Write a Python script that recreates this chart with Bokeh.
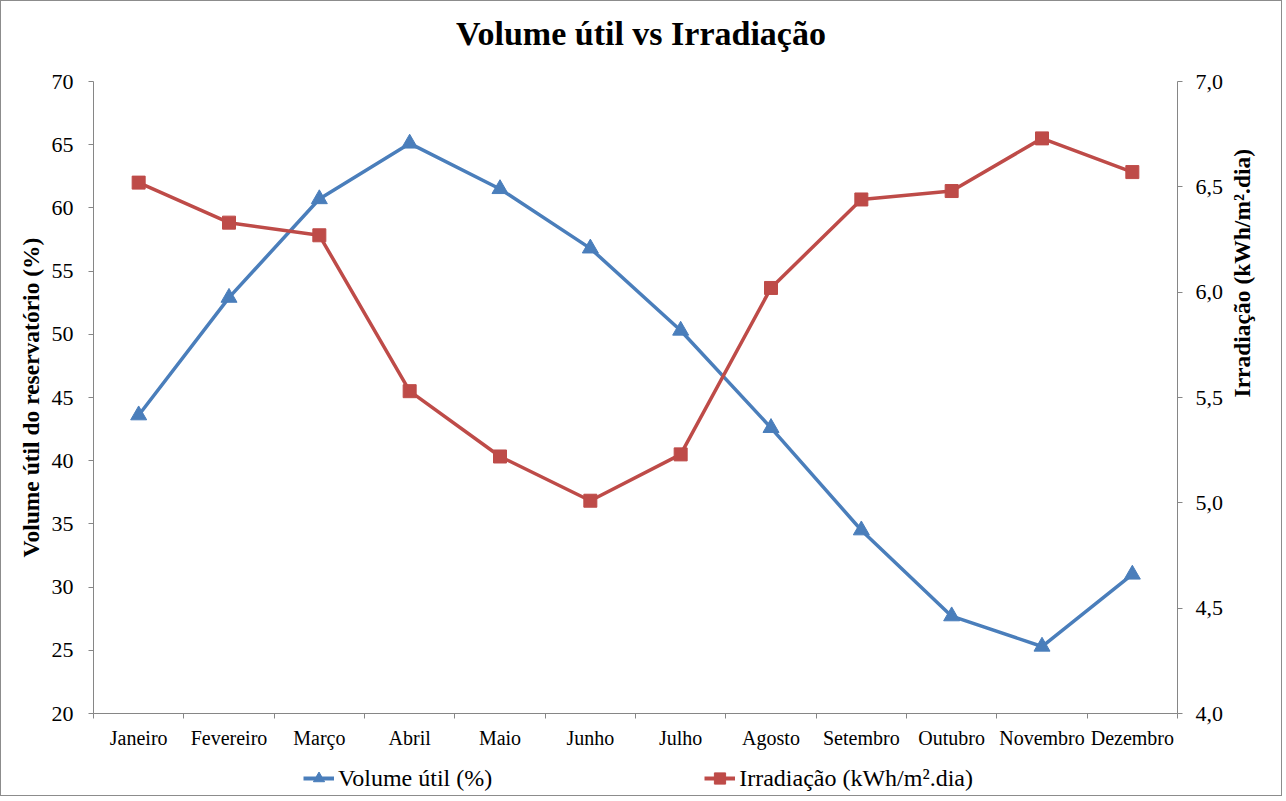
import math
from bokeh.plotting import figure
from bokeh.layouts import column
from bokeh.models import (Range1d, LinearAxis, FixedTicker, Legend, LegendItem, Div)
from bokeh.embed import file_html
from bokeh.resources import INLINE

title_text = "Volume útil vs Irradiação"
months = ["Janeiro", "Fevereiro", "Março", "Abril", "Maio", "Junho", "Julho",
          "Agosto", "Setembro", "Outubro", "Novembro", "Dezembro"]
volume = [43.6, 52.9, 60.7, 65.1, 61.5, 56.8, 50.3, 42.6, 34.5, 27.7, 25.3, 31.0]
irradiacao = [6.52, 6.33, 6.27, 5.53, 5.22, 5.01, 5.23, 6.02, 6.44, 6.48, 6.73, 6.57]
left_ticks = [20, 25, 30, 35, 40, 45, 50, 55, 60, 65, 70]
right_ticks = [4.0, 4.5, 5.0, 5.5, 6.0, 6.5, 7.0]
right_tick_labels = ["4,0", "4,5", "5,0", "5,5", "6,0", "6,5", "7,0"]
series_names = ["Volume útil (%)", "Irradiação (kWh/m².dia)"]

# category positions (centre of each category slot) and slot boundaries
xpos = [i + 0.5 for i in range(len(months))]
bounds = list(range(len(months) + 1))

FONT = "Liberation Serif"
AX = "#868686"
BLUE = "#4A7EBB"
RED = "#BE4B48"

header = Div(text=title_text, width=1270, height=56,
             styles={"font-family": FONT, "font-size": "34px", "font-weight": "bold",
                     "text-align": "center", "line-height": "56px", "color": "black",
                     "width": "1270px"})

p = figure(width=1270, height=688, x_range=Range1d(0, len(months)), y_range=Range1d(20, 70),
           output_backend="svg", toolbar_location=None, x_axis_location=None,
           y_axis_location=None, min_border_left=92, min_border_right=93,
           min_border_top=14, min_border_bottom=42)
p.outline_line_color = None
p.xgrid.visible = False
p.ygrid.visible = False
p.title.text = ""
p.title.standoff = 0

p.extra_y_ranges = {"irr": Range1d(4.0, 7.0)}

def style_axis(ax):
    ax.axis_line_color = AX
    ax.major_tick_line_color = AX
    ax.minor_tick_line_color = None
    ax.major_tick_in = 0
    ax.major_tick_out = 5
    ax.major_label_text_font = FONT
    ax.axis_label_text_font = FONT
    ax.axis_label_text_font_style = "bold"
    ax.axis_label_text_font_size = "23.5px"
    ax.axis_label_text_color = "black"
    ax.major_label_text_color = "black"

# left axis
yl = LinearAxis(ticker=FixedTicker(ticks=left_ticks), axis_label="Volume útil do reservatório (%)")
style_axis(yl)
yl.major_label_text_font_size = "22px"
yl.major_label_standoff = 15
yl.axis_label_standoff = 5
p.add_layout(yl, "left")

# right axis
yr = LinearAxis(y_range_name="irr", ticker=FixedTicker(ticks=right_ticks),
                axis_label="Irradiação (kWh/m².dia)",
                major_label_overrides={t: l for t, l in zip(right_ticks, right_tick_labels)})
style_axis(yr)
yr.major_label_text_font_size = "22px"
yr.major_label_standoff = 13
yr.axis_label_standoff = 16
if "axis_label_orientation" in yr.properties():
    yr.axis_label_orientation = math.pi / 2
p.add_layout(yr, "right")

# bottom axis: labels at category centres, tick marks at category boundaries
xa = LinearAxis(ticker=FixedTicker(ticks=xpos, minor_ticks=bounds),
                major_label_overrides={x: m for x, m in zip(xpos, months)})
style_axis(xa)
xa.major_tick_line_color = None
xa.major_tick_out = 0
xa.minor_tick_line_color = AX
xa.minor_tick_out = 5
xa.minor_tick_in = 0
xa.major_label_text_font_size = "20px"
xa.major_label_standoff = 8
p.add_layout(xa, "below")

p.line(xpos, volume, line_color=BLUE, line_width=3.5)
p.scatter(xpos, volume, marker="triangle", size=16, fill_color=BLUE, line_color=BLUE)
p.line(xpos, irradiacao, line_color=RED, line_width=3.5, y_range_name="irr")
p.scatter(xpos, irradiacao, marker="square", size=13, fill_color=RED, line_color=RED,
          y_range_name="irr")

# legend strip below the chart (its series renderers fall outside its tiny ranges)
q = figure(width=1270, height=40, x_range=Range1d(0, 1), y_range=Range1d(0, 1),
           output_backend="svg", toolbar_location=None, x_axis_location=None,
           y_axis_location=None, min_border=0, min_border_left=0, min_border_right=0,
           min_border_top=0, min_border_bottom=0)
q.outline_line_color = None
q.xgrid.visible = False
q.ygrid.visible = False
ql1 = q.line(xpos, volume, line_color=BLUE, line_width=4)
qm1 = q.scatter(xpos, volume, marker="triangle", size=16, fill_color=BLUE, line_color=BLUE)
ql2 = q.line(xpos, volume, line_color=RED, line_width=4)
qm2 = q.scatter(xpos, volume, marker="square", size=13, fill_color=RED, line_color=RED)

lg = Legend(items=[LegendItem(label=series_names[0], renderers=[ql1, qm1]),
                   LegendItem(label=series_names[1], renderers=[ql2, qm2])],
            location=(210, 3), orientation="horizontal", padding=0, margin=0, spacing=212,
            border_line_color=None, background_fill_alpha=0,
            glyph_width=31, glyph_height=28, label_height=28, label_standoff=4)
lg.label_text_font = "'Liberation Serif', serif"
lg.label_text_font_size = "24px"
lg.label_text_color = "black"
q.add_layout(lg, "center")

layout = column(header, p, q, spacing=0, styles={"border": "1px solid #8c8c8c"})

open("out.html", "w").write(file_html(layout, INLINE))
